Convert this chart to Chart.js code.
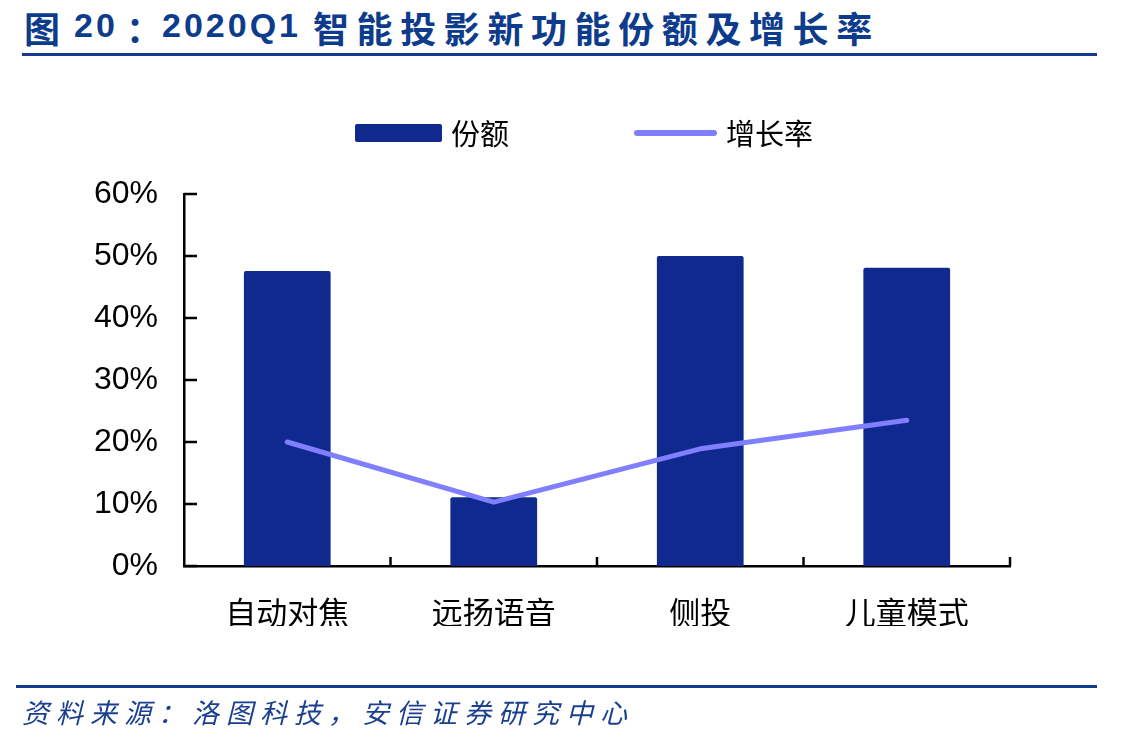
<!DOCTYPE html>
<html>
<head>
<meta charset="utf-8">
<script src="https://cdn.jsdelivr.net/npm/chart.js@4/dist/chart.umd.min.js"></script>
<style>
  html, body { margin:0; padding:0; background:#fff; }
  body { width:1147px; height:740px; position:relative; overflow:hidden; font-family:"Noto Sans CJK SC", sans-serif; }
  .t { position:absolute; color:#0E3C8C; white-space:nowrap; line-height:1; font-weight:bold; }
  .tc { font-family:"Noto Sans CJK SC",sans-serif; font-size:36px; top:9px; }
  .tl { font-family:"Liberation Sans",Arial,sans-serif; font-size:34px; top:8px; letter-spacing:3px; }
  #rule1 { position:absolute; left:22px; top:53px; width:1075px; height:3px; background:#143A8E; }
  #rule2 { position:absolute; left:16px; top:685px; width:1081px; height:3px; background:#143A8E; }
  #source { position:absolute; left:22px; top:692px; font-size:27px; font-style:italic; color:#1A3F8E; letter-spacing:7px; white-space:nowrap; }
  #wrap { position:absolute; left:0; top:0; width:1147px; height:740px; }
  .leg { position:absolute; font-size:29px; color:#000; white-space:nowrap; line-height:1; }
</style>
</head>
<body>
<div class="t tc" style="left:24px;">图</div>
<div class="t tl" style="left:74px;">20</div>
<div class="t tc" style="left:126px;">：</div>
<div class="t tl" style="left:162px;">2020Q1</div>
<div class="t tc" style="left:313px;letter-spacing:7.6px;">智能投影新功能份额及增长率</div>
<div id="rule1"></div>
<div id="wrap"><canvas id="c" width="1147" height="740"></canvas></div>
<div class="leg" style="left:355px;top:124px;width:87px;height:18px;background:#10298F;border-radius:2px;"></div>
<div class="leg" style="left:451px;top:118px;">份额</div>
<div class="leg" style="left:634px;top:130px;width:83px;height:6px;background:#7F7FFF;border-radius:3px;"></div>
<div class="leg" style="left:726px;top:118px;">增长率</div>
<div id="rule2"></div>
<div id="source">资料来源：洛图科技，安信证券研究中心</div>
<script>
const categories = ["自动对焦", "远扬语音", "侧投", "儿童模式"];
const share = [47.6, 11.1, 50.0, 48.1];
const growth = [20.0, 10.3, 18.9, 23.5];
const yTicks = [0, 10, 20, 30, 40, 50, 60];

const innerTicks = {
  id: 'innerTicks',
  afterDraw(chart) {
    const ctx = chart.ctx;
    const y = chart.scales.y;
    const area = chart.chartArea;
    ctx.save();
    ctx.strokeStyle = '#000';
    ctx.lineWidth = 2.5;
    ctx.beginPath();
    yTicks.forEach(v => {
      const py = Math.round(y.getPixelForValue(v));
      ctx.moveTo(area.left, py);
      ctx.lineTo(area.left + 13, py);
    });
    const n = categories.length;
    for (let i = 1; i <= n; i++) {
      const px = area.left + (area.right - area.left) * i / n;
      ctx.moveTo(px, area.bottom);
      ctx.lineTo(px, area.bottom - 9);
    }
    ctx.stroke();
    ctx.restore();
  }
};

new Chart(document.getElementById('c'), {
  data: {
    labels: categories,
    datasets: [
      { type: 'line', label: '增长率', data: growth, borderColor: '#7F7FFF', borderWidth: 5,
        pointRadius: 0, tension: 0, borderCapStyle: 'round', borderJoinStyle: 'round', order: 0 },
      { type: 'bar', label: '份额', data: share, backgroundColor: '#10298F', borderRadius: 2,
        barPercentage: 0.42, categoryPercentage: 1, order: 1 }
    ]
  },
  options: {
    responsive: false,
    animation: false,
    devicePixelRatio: 1,
    layout: { padding: { left: 0, right: 137, top: 194, bottom: 114 } },
    plugins: { legend: { display: false }, tooltip: { enabled: false } },
    scales: {
      x: {
        offset: true,
        grid: { display: false, drawTicks: false },
        border: { display: true, color: '#000', width: 2.5 },
        ticks: { color: '#000', padding: 28, font: { size: 31, family: '"Noto Sans CJK SC", sans-serif' } },
        afterFit(s) { s.height = 60; }
      },
      y: {
        min: 0, max: 60,
        grid: { display: false, drawTicks: false },
        border: { display: true, color: '#000', width: 2.5 },
        afterBuildTicks(s) { s.ticks = yTicks.map(v => ({ value: v })); },
        ticks: { color: '#000', padding: 26, callback: v => v + '%', font: { size: 32, family: '"Liberation Sans", Arial, sans-serif' } },
        afterFit(s) { s.width = 184; }
      }
    }
  },
  plugins: [innerTicks]
});
</script>
</body>
</html>
